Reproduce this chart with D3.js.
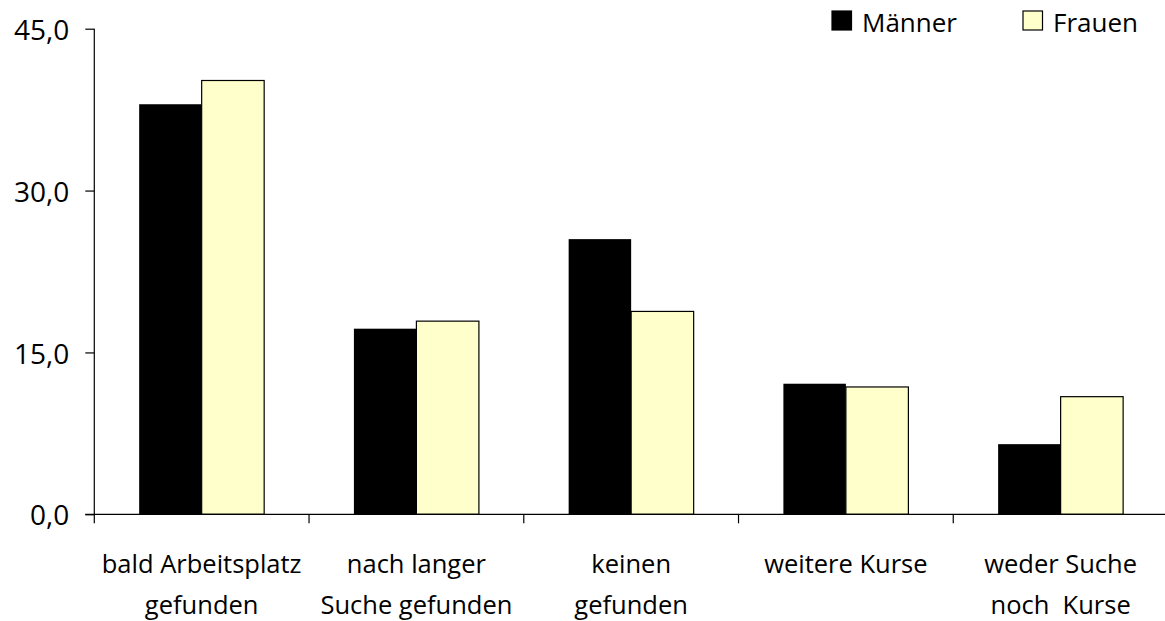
<!DOCTYPE html>
<html><head><meta charset="utf-8">
<script src="https://cdn.jsdelivr.net/npm/d3@7"></script>
<style>
html,body{margin:0;padding:0;background:#fff;}
text{font-family:"Open Sans","Lato",sans-serif;fill:#000;}
</style></head>
<body><svg id="c" width="1165" height="621"></svg>
<script>
const categories = [["bald Arbeitsplatz","gefunden"],["nach langer","Suche gefunden"],["keinen","gefunden"],["weitere Kurse"],["weder Suche","noch  Kurse"]];
const seriesNames = ["Männer","Frauen"];
const maenner = [38.0, 17.2, 25.5, 12.1, 6.5];
const frauen = [40.2, 17.9, 18.8, 11.8, 10.9];
const yTicks = [0, 15, 30, 45];
const colors = ["#000000", "#FFFFCC"];

const svg = d3.select("#c");
const x0 = 94.3, x1 = 1168, yTop = 28.7, yBot = 514.3;
const x = d3.scaleBand().domain(d3.range(categories.length)).range([x0, x1]).paddingInner(0).paddingOuter(0);
const y = d3.scaleLinear().domain([0, 45]).range([yBot, yTop]);
const barW = 62.5;
const offset = (x.bandwidth() - 2*barW)/2;

const data = [maenner, frauen];
data.forEach((vals, s) => {
  svg.append("g").selectAll("rect").data(vals).join("rect")
    .attr("x", (d,i) => x(i) + offset + s*barW)
    .attr("y", d => y(d))
    .attr("width", barW)
    .attr("height", d => yBot - y(d))
    .attr("fill", colors[s])
    .attr("stroke", s === 1 ? "#000" : "none")
    .attr("stroke-width", 1.2);
});

// y axis
const yAxis = d3.axisLeft(y).tickValues(yTicks).tickSize(9).tickPadding(16)
  .tickFormat(d => d3.format(".1f")(d).replace(".", ","));
const gy = svg.append("g").attr("transform", `translate(${x0},0)`).call(yAxis);
gy.select(".domain").attr("d", `M0,${yTop}V${yBot+9}`).attr("stroke", "#000").attr("stroke-width", 1.2);
gy.selectAll(".tick line").attr("stroke", "#000").attr("stroke-width", 1.2);
gy.selectAll(".tick text").style("font-size", "28px").style("font-family", "'Open Sans', sans-serif").attr("fill", "#000").attr("dy", "0.38em");

// x axis
const gx = svg.append("g").attr("transform", `translate(0,${yBot})`);
gx.append("line").attr("x1", x0 - 9).attr("x2", 1165).attr("y1", 0).attr("y2", 0).attr("stroke", "#000").attr("stroke-width", 1.2);
gx.selectAll("line.t").data(d3.range(categories.length)).join("line").attr("class","t")
  .attr("x1", i => x(i) + x.bandwidth()).attr("x2", i => x(i) + x.bandwidth())
  .attr("y1", 0).attr("y2", 9).attr("stroke", "#000").attr("stroke-width", 1.2);
const lbl = gx.selectAll("text.c").data(categories).join("text").attr("class","c")
  .attr("text-anchor", "middle").style("font-size", "25.5px").style("white-space", "pre");
lbl.each(function(d, i) {
  const t = d3.select(this);
  d.forEach((line, j) => {
    t.append("tspan").attr("x", x(i) + x.bandwidth()/2).attr("y", 59 + j*41).text(line);
  });
});

// legend
const legX = [832, 1023];
const leg = svg.append("g");
seriesNames.forEach((n, s) => {
  leg.append("rect").attr("x", legX[s]).attr("y", 11).attr("width", 19.5).attr("height", 19)
    .attr("fill", colors[s]).attr("stroke", "#000").attr("stroke-width", 1.2);
  leg.append("text").attr("x", legX[s] + 30).attr("y", 32).style("font-size", "26px").text(n);
});
</script></body></html>
